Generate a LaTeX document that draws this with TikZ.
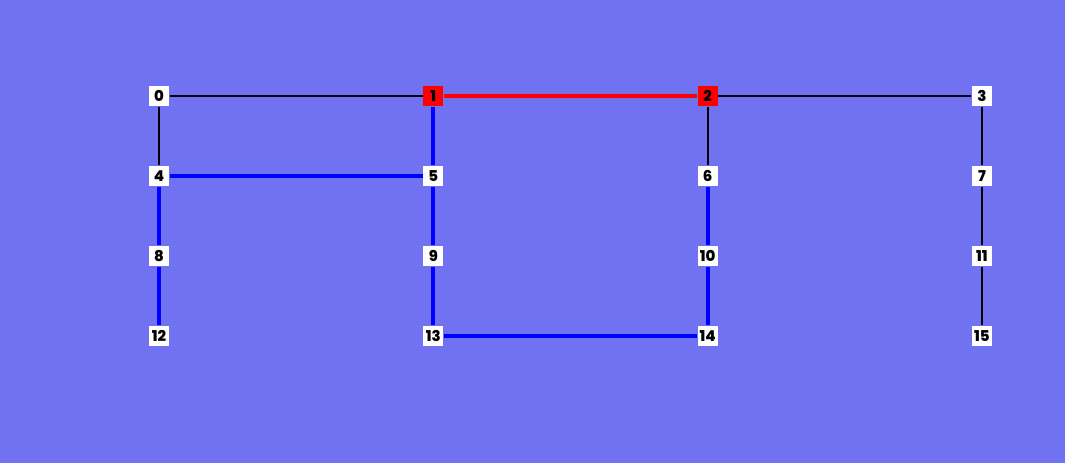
\documentclass[tikz,border=0pt]{standalone}
\usepackage{fontspec}
\setmainfont{Poppins}[BoldFont={Poppins ExtraBold}]
\usepackage{xcolor}
\usepackage{tikz}
\usetikzlibrary{positioning}
\definecolor{bgblue}{RGB}{112,114,241}
\tikzset{
 grid/.style={x=0.02cm,y=-0.02cm,semithick},
 cell/.style={rectangle,fill=white,minimum size=0.4cm,inner sep=0pt,font=\bfseries\fontsize{8.5}{9}\selectfont},
 picked/.style={cell,fill=red},
 plain/.style={draw=black,line width=1.1pt},
 tree/.style={draw=blue,line width=2.4pt},
 best/.style={draw=red,line width=2.8pt}}
\begin{document}
\begin{tikzpicture}[grid]
  \fill[bgblue] (0,0) rectangle (1065,463);
  \useasboundingbox (0,0) rectangle (1065,463);
  % cells on a 4x4 grid
  \foreach \i in {0,...,15}{
    \pgfmathtruncatemacro{\col}{mod(\i,4)}
    \pgfmathtruncatemacro{\row}{div(\i,4)}
    \ifnum\i=1 \def\kind{picked}\else\ifnum\i=2 \def\kind{picked}\else\def\kind{cell}\fi\fi
    \node[\kind] (n\i) at ({159+274.3*\col},{96+80*\row}) {\i};
  }
  \path[plain] (n0) -- (n1);
  \path[plain] (n2) -- (n3);
  \path[plain] (n0) -- (n4);
  \path[plain] (n2) -- (n6);
  \path[plain] (n3) -- (n7) -- (n11) -- (n15);
  \path[tree] (n1) -- (n5) -- (n9) -- (n13) -- (n14) -- (n10) -- (n6);
  \path[tree] (n5) -- (n4) -- (n8) -- (n12);
  \path[best] (n1) -- (n2);
\end{tikzpicture}
\end{document}
